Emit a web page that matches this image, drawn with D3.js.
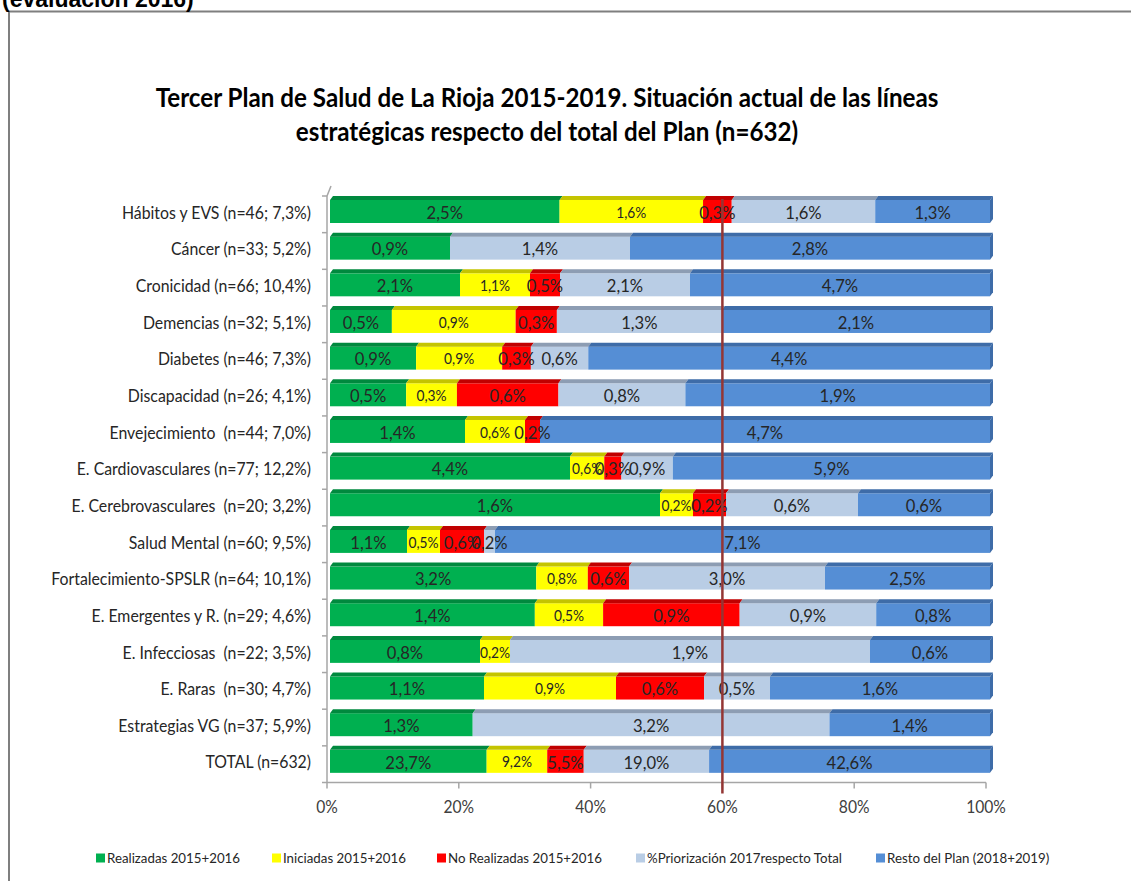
<!DOCTYPE html>
<html>
<head>
<meta charset="utf-8">
<script src="https://cdn.jsdelivr.net/npm/d3@7"></script>
<style>
  html, body { margin: 0; padding: 0; background: #fff; }
  svg { display: block; }
</style>
</head>
<body>
<svg id="chart" width="1131" height="881"></svg>
<script>
// ---------- DATA (number of actions per strategic line) ----------
const categories = [
  "Hábitos y EVS (n=46; 7,3%)",
  "Cáncer (n=33; 5,2%)",
  "Cronicidad (n=66; 10,4%)",
  "Demencias (n=32; 5,1%)",
  "Diabetes (n=46; 7,3%)",
  "Discapacidad (n=26; 4,1%)",
  "Envejecimiento  (n=44; 7,0%)",
  "E. Cardiovasculares (n=77; 12,2%)",
  "E. Cerebrovasculares  (n=20; 3,2%)",
  "Salud Mental (n=60; 9,5%)",
  "Fortalecimiento-SPSLR (n=64; 10,1%)",
  "E. Emergentes y R. (n=29; 4,6%)",
  "E. Infecciosas  (n=22; 3,5%)",
  "E. Raras  (n=30; 4,7%)",
  "Estrategias VG (n=37; 5,9%)",
  "TOTAL (n=632)"
];
const realizadas   = [16, 6, 13, 3, 6, 3, 9, 28, 10, 7, 20, 9, 5, 7, 8, 150];
const iniciadas    = [10, 0, 7, 6, 6, 2, 4, 4, 1, 3, 5, 3, 1, 6, 0, 58];
const noRealizadas = [2, 0, 3, 2, 2, 4, 1, 2, 1, 4, 4, 6, 0, 4, 0, 35];
const priorizacion = [10, 9, 13, 8, 4, 5, 0, 6, 4, 1, 19, 6, 12, 3, 20, 120];
const resto        = [8, 18, 30, 13, 28, 12, 30, 37, 4, 45, 16, 5, 4, 10, 9, 269];
const planTotal = 632;
const referenceLine = 0.6;

const seriesNames = [
  "Realizadas 2015+2016",
  "Iniciadas 2015+2016",
  "No Realizadas 2015+2016",
  "%Priorización 2017respecto Total",
  "Resto del Plan (2018+2019)"
];
const seriesKeys = ["realizadas", "iniciadas", "noRealizadas", "priorizacion", "resto"];
const seriesValues = [realizadas, iniciadas, noRealizadas, priorizacion, resto];
const xTicks = [0, 0.2, 0.4, 0.6, 0.8, 1];

// ---------- STYLE ----------
const frontColors = ["#00B050", "#FFFF00", "#FF0000", "#B9CDE5", "#558ED5"];
const topColors   = ["#00893E", "#C4C400", "#C00000", "#8D9DB3", "#3E6CA8"];
const labelSizes  = [17.5, 14.5, 17.5, 17.5, 17.5];
const legendX     = [96, 272, 437, 636, 876];
const FONT = "Lato, 'Open Sans', sans-serif";
const SX = 0.95; // horizontal condensing to imitate the narrow original font

const rows = categories.map((c, i) => {
  const r = { category: c };
  seriesKeys.forEach((k, j) => r[k] = seriesValues[j][i]);
  return r;
});

const stacked = d3.stack().keys(seriesKeys).offset(d3.stackOffsetExpand)(rows);

const svg = d3.select("#chart");
svg.append("rect").attr("width", 1131).attr("height", 881).attr("fill", "#fff");

// outer frame
svg.append("rect")
  .attr("x", 9).attr("y", 11.5).attr("width", 1140).attr("height", 900)
  .attr("fill", "none").attr("stroke", "#7F7F7F").attr("stroke-width", 2);

// clipped header
svg.append("text")
  .attr("x", 2).attr("y", 7)
  .attr("font-family", "'Liberation Sans', Arial, sans-serif")
  .attr("font-weight", "bold").attr("font-size", 23)
  .attr("fill", "#000")
  .text("(evaluación 2016)");

// helper: condensed text placed at (x,y)
function ctext(g, px, py, str, size, anchor, sx, opts = {}) {
  const t = g.append("text")
    .attr("transform", `translate(${px},${py}) scale(${sx},1)`)
    .attr("x", 0).attr("y", 0)
    .attr("text-anchor", anchor).attr("dominant-baseline", opts.baseline || "central")
    .attr("font-family", FONT).attr("font-size", size)
    .attr("fill", opts.fill || "#262626")
    .style("white-space", "pre")
    .text(str);
  if (opts.weight) t.attr("font-weight", opts.weight);
  return t;
}

// title
const titleLines = [
  "Tercer Plan de Salud de La Rioja 2015-2019. Situación actual de las líneas",
  "estratégicas respecto del total del Plan (n=632)"
];
const t1 = ctext(svg, 547, 107, titleLines[0], 27, "middle", 1, { baseline: "alphabetic", fill: "#000", weight: "bold" });
const tsx = 783 / t1.node().getComputedTextLength();
t1.attr("transform", `translate(547,107) scale(${tsx},1)`);
ctext(svg, 547, 141, titleLines[1], 27, "middle", tsx, { baseline: "alphabetic", fill: "#000", weight: "bold" });

// scales
const y = d3.scaleBand().domain(categories).range([196, 782.5]).paddingInner(0).paddingOuter(0);
const x = d3.scaleLinear().domain([0, 1]).range([330, 990]);
const xFloor = d3.scaleLinear().domain([0, 1]).range([327, 986]);

const barH = 27;
const topH = 4;
const depth = 3;

// wall
const wall = svg.append("g").attr("stroke", "#A6A6A6").attr("stroke-width", 1.5).attr("fill", "none");
wall.append("line").attr("x1", xFloor(0)).attr("x2", xFloor(0))
  .attr("y1", y.range()[0]).attr("y2", y.range()[1]);
wall.append("line").attr("x1", xFloor(0)).attr("x2", xFloor(0) + 4)
  .attr("y1", y.range()[0]).attr("y2", y.range()[0] - 10);
const bounds = categories.map(c => y(c)).concat([y.range()[1]]);
wall.selectAll("line.tk").data(bounds).join("line").attr("class", "tk")
  .attr("x1", xFloor(0) - 5).attr("x2", xFloor(0))
  .attr("y1", d => d).attr("y2", d => d);

// floor axis
const floorY = y.range()[1];
const floor = svg.append("g").attr("stroke", "#A6A6A6").attr("stroke-width", 1.5);
floor.append("line").attr("x1", xFloor(0)).attr("x2", xFloor(1)).attr("y1", floorY).attr("y2", floorY);
floor.selectAll("line.ft").data(xTicks).join("line").attr("class", "ft")
  .attr("x1", d => xFloor(d)).attr("x2", d => xFloor(d))
  .attr("y1", floorY).attr("y2", floorY + 6);
const tickG = svg.append("g");
xTicks.forEach(d => ctext(tickG, xFloor(d), 806, Math.round(d * 100) + "%", 17, "middle", 0.92, { fill: "#404040" }));

// category labels
const catG = svg.append("g");
categories.forEach(c => ctext(catG, 311, y(c) + 16, c, 16.5, "end", 0.96, { fill: "#262626" }));

// bars
const barsG = svg.append("g");
stacked.forEach((layer, si) => {
  const g = barsG.append("g");
  layer.forEach(seg => {
    const v = seg.data[layer.key];
    if (!v) return;
    const x0 = x(seg[0]), x1 = x(seg[1]);
    const top = y(seg.data.category);
    g.append("rect").attr("x", x0).attr("y", top + topH)
      .attr("width", Math.max(0, x1 - x0)).attr("height", barH - topH)
      .attr("fill", frontColors[si]);
    g.append("path")
      .attr("d", `M${x0},${top + topH}L${x0 + depth},${top}L${x1 + depth},${top}L${x1},${top + topH}Z`)
      .attr("fill", topColors[si]);
    if (seg[1] >= 0.9999) {
      g.append("path")
        .attr("d", `M${x1},${top + topH}L${x1 + depth},${top}L${x1 + depth},${top + barH - topH}L${x1},${top + barH}Z`)
        .attr("fill", topColors[si]);
    }
  });
});

// data labels
const labelsG = svg.append("g");
stacked.forEach((layer, si) => {
  layer.forEach(seg => {
    const v = seg.data[layer.key];
    if (!v) return;
    const top = y(seg.data.category);
    ctext(labelsG, (x(seg[0]) + x(seg[1])) / 2, top + topH + (barH - topH) / 2 + 0.5,
      (v / planTotal * 100).toFixed(1).replace(".", ",") + "%", labelSizes[si], "middle", SX, { fill: "#262626" });
  });
});

// 60% reference line
svg.append("line")
  .attr("x1", xFloor(referenceLine)).attr("x2", xFloor(referenceLine))
  .attr("y1", y.range()[0] + 3).attr("y2", floorY + 11)
  .attr("stroke", "#943634").attr("stroke-width", 2.5);

// legend
const legend = svg.append("g");
seriesNames.forEach((name, i) => {
  const it = legend.append("g").attr("transform", `translate(${legendX[i]},858)`);
  it.append("rect").attr("x", 0).attr("y", -4.5).attr("width", 9).attr("height", 9).attr("fill", frontColors[i]);
  ctext(it, 11, 0, name, 14, "start", 0.95, { fill: "#262626" });
});
</script>
</body>
</html>
